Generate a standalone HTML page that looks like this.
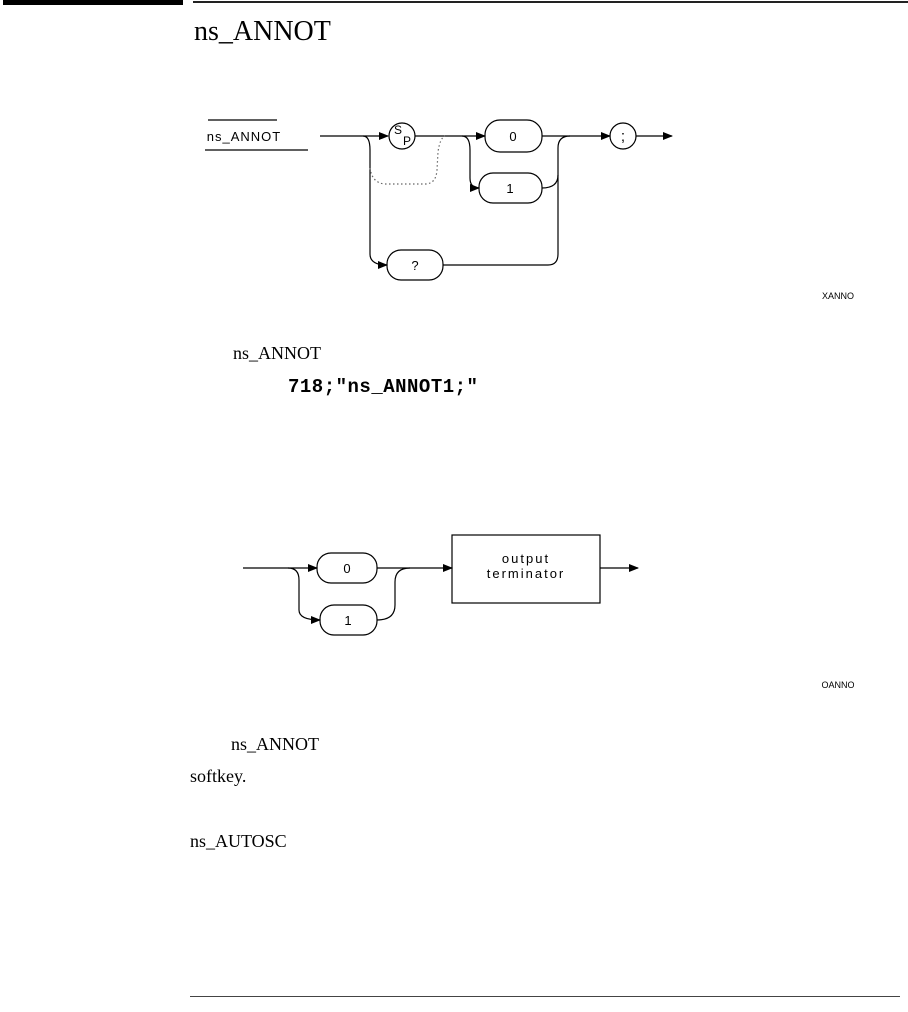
<!DOCTYPE html>
<html><head><meta charset="utf-8"><style>
html,body{margin:0;padding:0;background:#fff;}
body{width:908px;height:1012px;position:relative;overflow:hidden;}
.t{position:absolute;font-family:"Liberation Serif",serif;color:#000;white-space:nowrap;}
</style></head><body>
<div style="position:absolute;left:3px;top:0;width:180px;height:5px;background:#000"></div>
<div style="position:absolute;left:193px;top:1px;width:715px;height:2px;background:#222"></div>
<div class="t" style="left:194px;top:16px;font-size:28px;">ns_ANNOT</div>
<div class="t" style="left:233px;top:343px;font-size:18px;">ns_ANNOT</div>
<div class="t" style="left:288px;top:376px;font-size:19px;font-weight:bold;font-family:'Liberation Mono',monospace;letter-spacing:0.5px;">718;"ns_ANNOT1;"</div>
<div class="t" style="left:231px;top:734px;font-size:18px;">ns_ANNOT</div>
<div class="t" style="left:190px;top:766px;font-size:18px;">softkey.</div>
<div class="t" style="left:190px;top:831px;font-size:18px;">ns_AUTOSC</div>
<div style="position:absolute;left:190px;top:996px;width:710px;height:1px;background:#444"></div>
<svg width="908" height="1012" style="position:absolute;left:0;top:0" font-family="Liberation Sans, sans-serif">
<defs><marker id="a" markerWidth="10" markerHeight="8" refX="9" refY="4" orient="auto" markerUnits="userSpaceOnUse"><path d="M0,0 L10,4 L0,8z" fill="#000"/></marker></defs>
<g fill="none" stroke="#000" stroke-width="1.2">
<line x1="208" y1="120" x2="277" y2="120"/>
<line x1="205" y1="150" x2="308" y2="150"/>
<line x1="320" y1="136" x2="388" y2="136" marker-end="url(#a)"/>
<circle cx="402" cy="136" r="13"/>
<line x1="415" y1="136" x2="485" y2="136" marker-end="url(#a)"/>
<rect x="485" y="120" width="57" height="32" rx="15"/>
<rect x="479" y="173" width="63" height="30" rx="14"/>
<rect x="387" y="250" width="56" height="30" rx="14"/>
<circle cx="623" cy="136" r="13"/>
<line x1="542" y1="136" x2="610" y2="136" marker-end="url(#a)"/>
<line x1="636" y1="136" x2="672" y2="136" marker-end="url(#a)"/>
<path d="M363,136 Q370,136 370,150 L370,254 Q370,265 387,265" marker-end="url(#a)"/>
<path d="M462,136 Q470,136 470,150 L470,178 Q470,188 479,188" marker-end="url(#a)"/>
<path d="M542,188 Q558,188 558,175 L558,148 Q558,136 570,136"/>
<path d="M443,265 L548,265 Q558,265 558,254 L558,175"/>
<path d="M370,168 Q372,183 385,184 L425,184 Q436,184 437,170 L438,152 Q440,138 445,136" stroke-dasharray="1.5,2.5" stroke="#666"/>
<line x1="243" y1="568" x2="317" y2="568" marker-end="url(#a)"/>
<rect x="317" y="553" width="60" height="30" rx="14"/>
<rect x="320" y="605" width="57" height="30" rx="14"/>
<path d="M288,568 Q299,568 299,580 L299,610 Q299,620 320,620" marker-end="url(#a)"/>
<path d="M377,620 Q395,620 395,605 L395,582 Q395,568 410,568"/>
<line x1="377" y1="568" x2="452" y2="568" marker-end="url(#a)"/>
<rect x="452" y="535" width="148" height="68"/>
<line x1="600" y1="568" x2="638" y2="568" marker-end="url(#a)"/>
</g>
<g font-size="13" fill="#000" text-anchor="middle">
<text x="244" y="141" letter-spacing="1">ns_ANNOT</text>
<text x="398" y="134" font-size="12">S</text><text x="407" y="145" font-size="12">P</text>
<text x="513" y="141">0</text><text x="510" y="193">1</text><text x="415" y="270">?</text>
<text x="623" y="141" font-size="15">;</text>
<text x="347" y="573">0</text><text x="348" y="625">1</text>
<text x="526" y="563" letter-spacing="2">output</text>
<text x="526" y="578" letter-spacing="2">terminator</text>
<text x="838" y="299" font-size="9">XANNO</text>
<text x="838" y="688" font-size="9">OANNO</text>
</g>
</svg>
</body></html>
